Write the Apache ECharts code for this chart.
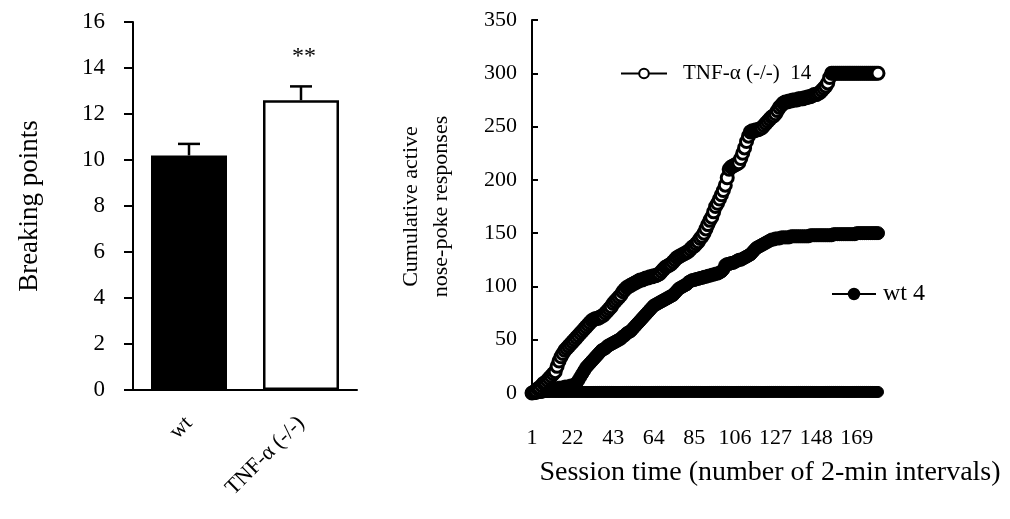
<!DOCTYPE html>
<html>
<head>
<meta charset="utf-8">
<script src="https://cdn.jsdelivr.net/npm/echarts@6/dist/echarts.min.js"></script>
<style>
html,body{margin:0;padding:0;background:#fff;}
#c{width:1010px;height:519px;}
</style>
</head>
<body>
<div id="c"></div>
<script>
// ---------- Left panel: breaking points ----------
const barCategories = ['wt', 'TNF-\u03b1 (-/-)'];
const barMeans = [10.2, 12.6];
const barErrors = [0.5, 0.6];
const barSignificance = ['', '**'];
const barYTicks = [0, 16, 2];

// ---------- Right panel: cumulative responses ----------
const sessionIntervals = [];
for (let k = 1; k <= 180; k++) sessionIntervals.push(String(k));
const tnfCumulative = [
0,1,2,4,5,7,9,10,12,14,
16,18,20,25,30,34,37,40,42,44,
46,48,50,52,54,56,58,60,62,64,
66,68,69,70,70,71,72,73,75,77,
79,81,84,86,88,90,92,95,97,99,
100,101,102,103,104,105,106,106,107,108,
108,109,109,110,110,111,112,114,116,118,
119,120,121,123,125,127,128,129,130,131,
132,133,135,137,138,140,142,145,147,150,
154,158,162,165,170,175,178,182,186,190,
195,202,210,212,213,214,215,216,220,225,
230,236,241,245,246,246,247,247,248,249,
251,253,255,257,259,260,262,265,268,270,
272,273,273,274,274,275,275,275,276,276,
276,277,277,278,278,279,280,280,281,282,
284,286,288,291,296,300,300,300,300,300,
300,300,300,300,300,300,300,300,300,300,
300,300,300,300,300,300,300,300,300,300
];
const wtCumulative = [
0,0,0,1,1,1,2,2,2,3,
3,3,4,4,5,5,5,6,6,6,
7,7,8,9,12,15,18,21,24,26,
28,30,32,34,36,38,40,41,42,44,
45,46,47,48,49,50,51,53,54,56,
57,58,60,62,64,66,68,70,72,74,
76,78,80,82,83,84,85,86,87,88,
89,90,91,92,94,96,98,99,100,101,
102,104,105,106,106,107,107,108,108,109,
109,110,110,111,111,112,112,113,114,116,
120,121,121,122,122,123,124,125,125,126,
127,128,129,130,132,134,136,137,138,139,
140,141,142,143,144,144,145,145,145,146,
146,146,146,146,147,147,147,147,147,147,
147,147,147,147,148,148,148,148,148,148,
148,148,148,148,148,148,149,149,149,149,
149,149,149,149,149,149,149,149,150,150,
150,150,150,150,150,150,150,150,150,150
];
const baseline = [
1,1,1,1,1,1,1,1,1,1, 1,1,1,1,1,1,1,1,1,1,
1,1,1,1,1,1,1,1,1,1, 1,1,1,1,1,1,1,1,1,1,
1,1,1,1,1,1,1,1,1,1, 1,1,1,1,1,1,1,1,1,1,
1,1,1,1,1,1,1,1,1,1, 1,1,1,1,1,1,1,1,1,1,
1,1,1,1,1,1,1,1,1,1, 1,1,1,1,1,1,1,1,1,1,
1,1,1,1,1,1,1,1,1,1, 1,1,1,1,1,1,1,1,1,1,
1,1,1,1,1,1,1,1,1,1, 1,1,1,1,1,1,1,1,1,1,
1,1,1,1,1,1,1,1,1,1, 1,1,1,1,1,1,1,1,1,1,
1,1,1,1,1,1,1,1,1,1, 1,1,1,1,1,1,1,1,1,1
];
const lineYTicks = [0, 350, 50];
const tnfLegend = 'TNF-\u03b1 (-/-)  14';
const wtLegend = 'wt 4';

const FONT = 'Liberation Serif';
const chart = echarts.init(document.getElementById('c'), null, {renderer: 'canvas'});

const errData = barMeans.map((m, i) => [i, m, barErrors[i]]);

chart.setOption({
  animation: false,
  backgroundColor: '#fff',
  textStyle: {fontFamily: FONT, color: '#000'},
  grid: [
    {left: 133, top: 22, width: 224, height: 368},
    {left: 532, top: 20, width: 346, height: 373}
  ],
  title: {
    text: 'Session time (number of 2-min intervals)',
    left: 765, top: 454, textAlign: 'center',
    textStyle: {fontFamily: FONT, fontSize: 28, fontWeight: 'normal', color: '#000'}
  },
  legend: [
    {
      data: [tnfLegend], left: 615, top: 58, itemWidth: 46, itemHeight: 12, itemGap: 0, z: 10,
      textStyle: {fontFamily: FONT, fontSize: 21, color: '#000', padding: [0, 0, 0, 11]}
    },
    {
      data: [wtLegend], left: 826, top: 277, itemWidth: 44, itemHeight: 13, z: 10,
      textStyle: {fontFamily: FONT, fontSize: 24, color: '#000', padding: [0, 0, 0, 2]}
    }
  ],
  xAxis: [
    {
      gridIndex: 0, type: 'category', data: barCategories,
      axisLine: {lineStyle: {color: '#000', width: 2}},
      axisTick: {show: false},
      axisLabel: {rotate: 45, margin: 30, fontFamily: FONT, fontSize: 22, color: '#000'}
    },
    {
      gridIndex: 1, type: 'category', data: sessionIntervals, boundaryGap: false,
      axisLine: {lineStyle: {color: '#000', width: 2}},
      axisTick: {show: false},
      axisLabel: {interval: 20, margin: 34, fontFamily: FONT, fontSize: 22, color: '#000'}
    }
  ],
  yAxis: [
    {
      gridIndex: 0, type: 'value', min: barYTicks[0], max: barYTicks[1], interval: barYTicks[2],
      name: 'Breaking points', nameLocation: 'middle', nameGap: 90,
      nameTextStyle: {fontFamily: FONT, fontSize: 27, color: '#000'},
      splitLine: {show: false},
      axisLine: {show: true, lineStyle: {color: '#000', width: 2}},
      axisTick: {show: true, length: 9, lineStyle: {color: '#000', width: 2}},
      axisLabel: {margin: 28, fontFamily: FONT, fontSize: 23, color: '#000'}
    },
    {
      gridIndex: 1, type: 'value', min: lineYTicks[0], max: lineYTicks[1], interval: lineYTicks[2],
      name: 'Cumulative active\nnose-poke responses', nameLocation: 'middle', nameGap: 76,
      nameTextStyle: {fontFamily: FONT, fontSize: 22, color: '#000', lineHeight: 30},
      splitLine: {show: false},
      axisLine: {show: true, lineStyle: {color: '#000', width: 2}},
      axisTick: {show: true, inside: true, length: 6, lineStyle: {color: '#000', width: 2}},
      axisLabel: {margin: 15, fontFamily: FONT, fontSize: 22, color: '#000'}
    }
  ],
  series: [
    {
      type: 'bar', xAxisIndex: 0, yAxisIndex: 0, barWidth: 76,
      data: barMeans.map((v, i) => ({
        value: v,
        itemStyle: i === 0 ? {color: '#000', borderColor: '#000', borderWidth: 2}
                           : {color: '#fff', borderColor: '#000', borderWidth: 2.5}
      }))
    },
    {
      type: 'custom', xAxisIndex: 0, yAxisIndex: 0, z: 5,
      data: errData,
      renderItem: function (params, api) {
        const i = api.value(0);
        const m = api.value(1);
        const e = api.value(2);
        const p0 = api.coord([i, m]);
        const p1 = api.coord([i, m + e]);
        const children = [
          {type: 'line', shape: {x1: p0[0], y1: p0[1], x2: p1[0], y2: p1[1]}, style: {stroke: '#000', lineWidth: 2.5}},
          {type: 'line', shape: {x1: p1[0] - 11, y1: p1[1], x2: p1[0] + 11, y2: p1[1]}, style: {stroke: '#000', lineWidth: 2.5}}
        ];
        const sig = barSignificance[params.dataIndex];
        if (sig) {
          children.push({type: 'text', style: {text: sig, x: p1[0] + 3, y: p1[1] - 30, align: 'center', verticalAlign: 'middle', font: '24px ' + FONT, fill: '#000'}});
        }
        return {type: 'group', children: children};
      }
    },
    {
      name: 'baseline', type: 'line', xAxisIndex: 1, yAxisIndex: 1, data: baseline,
      symbol: 'circle', symbolSize: 11, showSymbol: true, showAllSymbol: true,
      lineStyle: {color: '#000', width: 2},
      itemStyle: {color: '#000', borderColor: '#000'}
    },
    {
      name: wtLegend, type: 'line', xAxisIndex: 1, yAxisIndex: 1, data: wtCumulative,
      symbol: 'circle', symbolSize: 13, showSymbol: true, showAllSymbol: true,
      lineStyle: {color: '#000', width: 2},
      itemStyle: {color: '#000', borderColor: '#000', borderWidth: 1}
    },
    {
      name: tnfLegend, type: 'line', xAxisIndex: 1, yAxisIndex: 1, data: tnfCumulative,
      symbol: 'circle', symbolSize: 12, showSymbol: true, showAllSymbol: true,
      lineStyle: {color: '#000', width: 2},
      itemStyle: {color: '#fff', borderColor: '#000', borderWidth: 3}
    }
  ]
});
</script>
</body>
</html>
